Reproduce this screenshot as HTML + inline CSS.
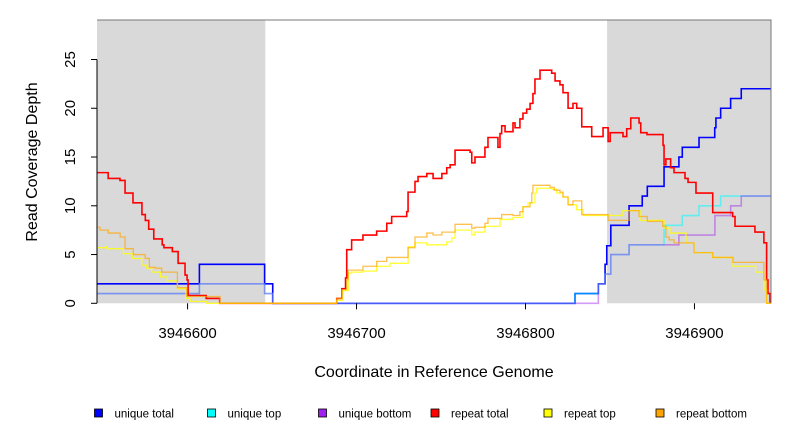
<!DOCTYPE html>
<html><head><meta charset="utf-8"><style>
html,body{margin:0;padding:0;background:#fff;}
svg{display:block;font-family:"Liberation Sans",sans-serif;}
</style></head><body>
<svg id="chart" width="792" height="432" viewBox="0 0 792 432" xmlns="http://www.w3.org/2000/svg">
<g id="shade"></g>
<g id="series"></g>
<g id="axes"></g>
<text x="434" y="377" font-size="16" text-anchor="middle">Coordinate in Reference Genome</text>
<text transform="translate(37,162) rotate(-90)" font-size="16" text-anchor="middle">Read Coverage Depth</text>
<g id="legend"></g>
</svg>
<script>
const BASE = 3946000;
const xTicks = [3946600, 3946700, 3946800, 3946900];
const yTicks = [0, 5, 10, 15, 20, 25];
const shadedRanges = [[546.4, 646], [848.3, 945.3]];
const uniqueTotal = [[546.4,2],[607,4],[645.6,2],[650.4,0],[829.3,1],[843.1,2],[847.1,4],[848.1,5.9],[850.5,8],[861.3,10],[869.1,11],[872.1,12],[882,14],[890.8,15],[892.8,16],[902.7,17],[912,18],[912.7,19],[915.5,20],[921.4,21],[927.7,22],[945.3,22]];
const uniqueTop = [[546.4,1],[607,2],[645.6,1],[650.4,0],[829.3,1],[843.1,2],[847.1,3],[850.5,5],[861.3,6],[882,8],[892.8,9],[902.7,10],[915.5,11],[945.3,11]];
const uniqueBottom = [[546.4,1],[607,2],[645.6,1],[650.4,0],[843.1,2],[847.1,3],[850.5,5],[861.3,6],[890.8,7],[912.1,9],[921.4,10],[927.7,11],[945.3,11]];
const repeatTotal = [[546.4,13.4],[553,12.8],[560,12.6],[563,11.3],[567.7,10.3],[573,9.1],[575,8.5],[577,7.6],[580,6.6],[585,6.0],[586,5.7],[591,5.3],[594.4,4.1],[598.5,2.9],[599.7,2.4],[600.3,0.8],[611,0.5],[619,0],[688.3,0.5],[691.3,1.5],[693.5,2.6],[694.2,5.5],[697.1,6.5],[703.8,7.0],[711.9,7.4],[717.9,8.2],[720.8,8.9],[729.7,9.4],[730.5,11.4],[734.6,12.5],[736.4,13.0],[741.6,13.3],[745.3,12.8],[750.5,13.3],[753.4,13.9],[755.4,14.2],[758.3,15.7],[767.2,15.5],[768.2,14.4],[770.1,15.0],[776,16.0],[777.8,17.0],[783.7,16.0],[784.9,17.4],[785.9,18.2],[787.9,17.6],[792.6,18.5],[793.8,18.0],[796.7,18.9],[798.5,19.5],[800.7,19.9],[802.7,20.5],[804.4,21.5],[805.6,23.0],[808.6,23.9],[815.5,23.6],[817.5,22.8],[820.4,22.4],[822.2,21.6],[825.2,20.0],[828.1,20.5],[830.3,20.0],[833.3,18.1],[839.2,17.1],[845.9,18.0],[848.9,16.6],[850.1,17.5],[857.7,17.1],[859.9,17.9],[862.3,19.0],[867.2,18.5],[868.2,17.5],[871.9,17.3],[881.4,16.2],[882,14.2],[883.1,14.8],[885.9,13.9],[887.9,13.4],[894.4,12.8],[896.2,12.4],[900.9,11.3],[910.8,9.3],[922.6,8.9],[924,7.9],[935.8,7.3],[941.1,6.2],[942.7,2.4],[943.5,1.0],[944.7,0]];
const repeatTop = [[546.4,5.7],[552,5.8],[552.5,5.6],[562,5.1],[567.6,4.6],[572.9,3.9],[575.9,3.6],[578.8,3.2],[584.1,2.7],[588,2.3],[594,1.5],[599.1,0.5],[601.5,0.2],[611.4,0],[688.3,0.3],[692,1.3],[695.1,3.1],[697.1,3.2],[703.8,3.3],[711.9,3.8],[719.8,4.1],[730.5,5.8],[734.6,6.2],[741.6,6.0],[753.4,6.3],[756.4,6.7],[758.3,7.5],[768.2,7.0],[770.1,7.3],[776,7.9],[784.9,8.6],[792.6,8.8],[798.5,9.9],[801.5,10.3],[805.6,11.3],[806.6,11.8],[815.5,11.7],[818.5,11.3],[822.2,10.9],[825.2,10.1],[830.3,9.6],[834.1,9.0],[857.7,9.5],[867.8,8.5],[882,7.7],[885.5,7.2],[895,6.2],[899.7,5.2],[910.8,4.7],[922.8,3.8],[936.2,3.2],[941.1,1.4],[942.7,0],[945.3,0]];
const repeatBottom = [[546.4,7.8],[548.2,7.5],[553.1,7.2],[560.1,6.8],[563,5.6],[567.9,5.0],[574.9,4.6],[577.4,3.7],[580.8,3.6],[584.7,3.2],[594,1.6],[599.5,0.7],[619.2,0],[688.3,0.5],[691.3,1.4],[694.2,2.4],[695.1,3.4],[703.8,3.8],[711.9,4.3],[717.9,4.7],[730.5,5.7],[734.6,6.8],[741.6,7.2],[745.3,7.0],[750.5,7.3],[758.3,8.1],[768.2,7.7],[770.1,7.8],[776,8.2],[777.8,8.7],[785.9,9.1],[792.6,9.0],[796.7,9.4],[798.5,9.9],[802.7,10.3],[803.7,11.3],[804.4,12.1],[814.5,11.9],[817,11.6],[820.4,11.4],[822.2,10.9],[825.2,10.1],[828.1,10.5],[833.3,9.1],[848.9,8.5],[861.3,9.5],[867.2,8.9],[872.1,8.4],[881.2,7.9],[883.1,6.8],[885,6.5],[887.9,6.2],[899.7,5.2],[910.8,4.7],[922.8,4.2],[941.1,2.4],[942.7,0],[945.3,0]];
const seriesNames = ["unique total","unique top","unique bottom","repeat total","repeat top","repeat bottom"];

const NS = "http://www.w3.org/2000/svg";
const L = 97, R = 771, T = 20, B = 303.3;
const X0 = BASE + 546.4, X1 = BASE + 945.3, Y0 = 0, Y1 = 29.05;
function sx(v){ return L + (v - X0) / (X1 - X0) * (R - L); }
function sxo(o){ return sx(BASE + o); }
function sy(v){ return B - (v - Y0) / (Y1 - Y0) * (B - T); }
function mk(tag, attrs, parent){ const e = document.createElementNS(NS, tag); for (const k in attrs) e.setAttribute(k, attrs[k]); parent.appendChild(e); return e; }

const shade = document.getElementById('shade');
shadedRanges.forEach((r, i) => {
  const rc = mk('rect', {x: sxo(r[0]), y: T, width: sxo(r[1]) - sxo(r[0]), height: B - T, fill: '#d9d9d9'}, shade);
  
  
});

const seriesG = document.getElementById('series');
function stepPath(data){
  let d = '';
  data.forEach((p, i) => {
    const x = sxo(p[0]).toFixed(2), y = sy(p[1]).toFixed(2);
    if (i === 0) d += 'M' + x + ',' + y;
    else d += 'H' + x + 'V' + y;
  });
  return d;
}
const styles = [
  [uniqueTotal, '#0000ff', 1, 1.6, 'unique-total-line'],
  [uniqueTop, '#00ffff', 0.55, 1.6, 'unique-top-line'],
  [uniqueBottom, '#a020f0', 0.45, 1.6, 'unique-bottom-line'],
  [repeatTotal, '#ff0000', 1, 1.6, 'repeat-total-line'],
  [repeatTop, '#ffff00', 0.8, 1.3, 'repeat-top-line'],
  [repeatBottom, '#ffa500', 0.7, 1.3, 'repeat-bottom-line']
];
styles.forEach(s => {
  const p = mk('path', {d: stepPath(s[0]), fill: 'none', stroke: s[1], 'stroke-opacity': s[2], 'stroke-width': s[3]}, seriesG);
  
  
});

const axes = document.getElementById('axes');
const borderPath = mk('path', {d: 'M' + L + ',' + T + 'H' + R + 'V' + B, fill: 'none', stroke: '#777', 'stroke-width': 1}, axes);


const yl = mk('line', {x1: L, x2: L, y1: sy(yTicks[0]), y2: sy(yTicks[yTicks.length - 1]), stroke: '#000', 'stroke-width': 1}, axes);


yTicks.forEach(v => {
  const y = sy(v);
  const t = mk('line', {x1: L - 6, x2: L, y1: y, y2: y, stroke: '#000'}, axes);
  
  
  const lb = mk('text', {transform: 'translate(75,' + y + ') rotate(-90)', 'font-size': 15, 'text-anchor': 'middle'}, axes);
  lb.textContent = String(v);
  
  
});
xTicks.forEach(v => {
  const x = sx(v);
  const t = mk('line', {x1: x, x2: x, y1: B, y2: B + 6, stroke: '#000'}, axes);
  
  
  const lb = mk('text', {x: x, y: 338, 'font-size': 15, 'text-anchor': 'middle'}, axes);
  lb.textContent = String(v);
  
  
});

const legend = document.getElementById('legend');
const legendX = [98.5, 211.5, 322.5, 435, 548, 660];
const legendColors = ['#0000ff','#00ffff','#a020f0','#ff0000','#ffff00','#ffa500'];
seriesNames.forEach((n, i) => {
  const g = mk('g', {}, legend);
  
  
  mk('rect', {x: legendX[i] - 4, y: 409, width: 8, height: 8, fill: legendColors[i], stroke: '#000', 'stroke-width': 0.8}, g);
  const t = mk('text', {x: legendX[i] + 16, y: 417.5, 'font-size': 11.5}, g);
  t.textContent = n;
});
</script>
</body></html>
